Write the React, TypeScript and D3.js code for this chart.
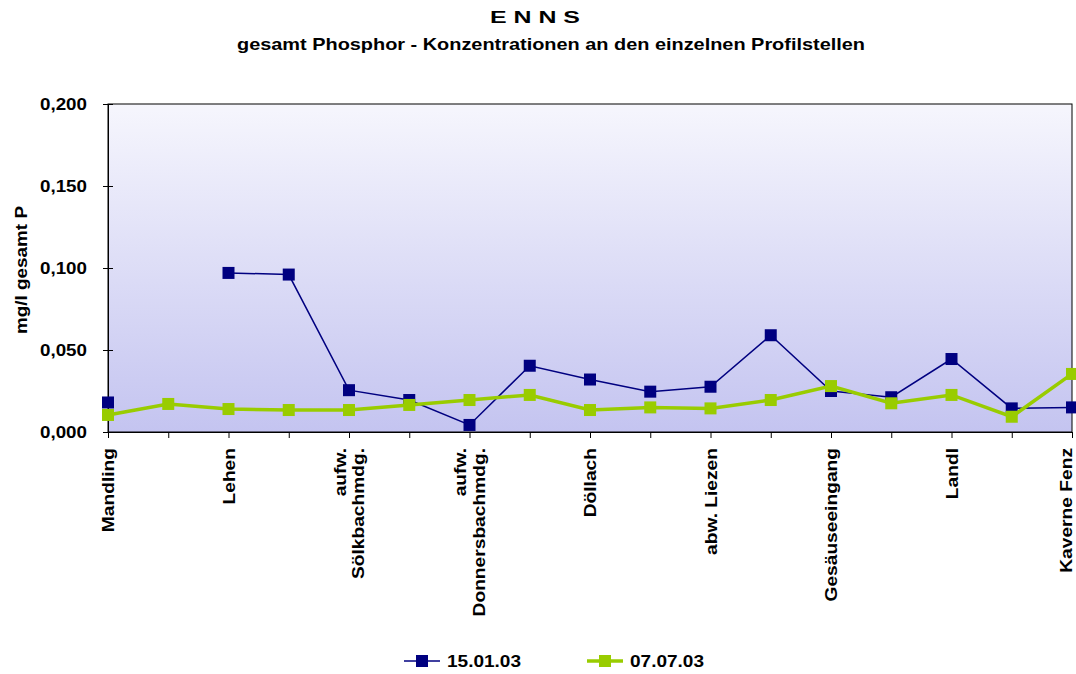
import React, { useRef, useEffect } from "react";
import * as d3 from "d3";

// Profilstellen entlang der Enns (nur jede zweite beschriftet)
const stations: string[][] = [
  ["Mandling"],
  [],
  ["Lehen"],
  [],
  ["aufw.", "Sölkbachmdg."],
  [],
  ["aufw.", "Donnersbachmdg."],
  [],
  ["Döllach"],
  [],
  ["abw. Liezen"],
  [],
  ["Gesäuseeingang"],
  [],
  ["Landl"],
  [],
  ["Kaverne Fenz"],
];

const jan03: (number | null)[] = [
  0.018, null, 0.097, 0.096, 0.0255, 0.0195, 0.0043, 0.0404, 0.032, 0.0246,
  0.0276, 0.059, 0.025, 0.0212, 0.0445, 0.0144, 0.015,
];
const jul03: (number | null)[] = [
  0.0104, 0.0171, 0.014, 0.0134, 0.0134, 0.0165, 0.0195, 0.0226, 0.0134,
  0.015, 0.0144, 0.0195, 0.028, 0.0175, 0.0226, 0.0093, 0.0354,
];
const yTicks = [0, 0.05, 0.1, 0.15, 0.2];

const series = [
  { name: "15.01.03", values: jan03, color: "#000080", width: 1.5 },
  { name: "07.07.03", values: jul03, color: "#99cc00", width: 3.5 },
];

const App = () => {
  const svgRef = useRef<SVGSVGElement>(null);

  useEffect(() => {
    document.body.style.margin = "0";
    const width = 1076;
    const height = 674;
    const m = { left: 108, right: 4, top: 104, bottom: 242 };
    const font = "'Liberation Sans', Arial, sans-serif";

    const svg = d3.select(svgRef.current).attr("width", width).attr("height", height);
    svg.selectAll("*").remove();

    const x = d3
      .scalePoint<number>()
      .domain(d3.range(stations.length))
      .range([m.left, width - m.right]);
    const y = d3.scaleLinear().domain([0, 0.2]).range([height - m.bottom, m.top]);

    const defs = svg.append("defs");
    const grad = defs
      .append("linearGradient")
      .attr("id", "bg")
      .attr("x1", 0)
      .attr("y1", 0)
      .attr("x2", 0)
      .attr("y2", 1);
    grad.append("stop").attr("offset", "0%").attr("stop-color", "#f6f6fd");
    grad.append("stop").attr("offset", "100%").attr("stop-color", "#c4c4f0");

    svg
      .append("rect")
      .attr("x", m.left)
      .attr("y", m.top)
      .attr("width", width - m.left - m.right)
      .attr("height", height - m.top - m.bottom)
      .attr("fill", "url(#bg)")
      .attr("stroke", "#000")
      .attr("stroke-width", 1);

    // titles (reference text is drawn wide, so stretch with textLength)
    svg
      .append("text")
      .attr("x", 535)
      .attr("y", 23)
      .attr("text-anchor", "middle")
      .attr("textLength", 90)
      .attr("lengthAdjust", "spacingAndGlyphs")
      .style("font", `bold 17px ${font}`)
      .text("E N N S");
    svg
      .append("text")
      .attr("x", 551)
      .attr("y", 50)
      .attr("text-anchor", "middle")
      .attr("textLength", 628)
      .attr("lengthAdjust", "spacingAndGlyphs")
      .style("font", `bold 17px ${font}`)
      .text("gesamt Phosphor - Konzentrationen an den einzelnen Profilstellen");

    // y axis
    const yAxis = svg
      .append("g")
      .attr("transform", `translate(${m.left},0)`)
      .call(
        d3
          .axisLeft(y)
          .tickValues(yTicks)
          .tickSize(5)
          .tickPadding(16)
          .tickFormat((d) => d3.format(".3f")(d as number).replace(".", ","))
      );
    yAxis.select(".domain").attr("stroke", "#000");
    yAxis.selectAll(".tick line").attr("x2", -5).attr("x1", 5).attr("stroke", "#000");
    yAxis
      .selectAll(".tick text")
      .attr("fill", "#000")
      .attr("textLength", 47)
      .attr("lengthAdjust", "spacingAndGlyphs")
      .style("font", `bold 17px ${font}`);

    svg
      .append("text")
      .attr("transform", `translate(27,${270}) rotate(-90)`)
      .attr("text-anchor", "middle")
      .attr("textLength", 128)
      .attr("lengthAdjust", "spacingAndGlyphs")
      .style("font", `bold 17px ${font}`)
      .text("mg/l gesamt P");

    // x axis
    const xAxis = svg
      .append("g")
      .attr("transform", `translate(0,${height - m.bottom})`)
      .call(d3.axisBottom(x).tickSize(6).tickFormat(() => ""));
    xAxis.select(".domain").attr("stroke", "#000");
    xAxis.selectAll(".tick line").attr("stroke", "#000");

    stations.forEach((lines, i) => {
      if (!lines.length) return;
      const cx = Math.min(x(i) as number, width - 10);
      const g = svg
        .append("g")
        .attr("transform", `translate(${cx},${height - m.bottom + 16}) rotate(-90) scale(1.2,1)`);
      const lh = 19;
      lines.forEach((line, j) => {
        g.append("text")
          .attr("x", 0)
          .attr("y", (j - (lines.length - 1) / 2) * lh + 6)
          .attr("text-anchor", "end")
          .style("font", `bold 16px ${font}`)
          .text(line);
      });
    });

    // lines
    series.forEach((s) => {
      const line = d3
        .line<number | null>()
        .defined((d) => d !== null)
        .x((_, i) => x(i) as number)
        .y((d) => y(d as number));
      svg
        .append("path")
        .datum(s.values)
        .attr("fill", "none")
        .attr("stroke", s.color)
        .attr("stroke-width", s.width)
        .attr("d", line);
      svg
        .append("g")
        .selectAll("rect")
        .data(s.values.map((v, i) => ({ v, i })).filter((d) => d.v !== null))
        .join("rect")
        .attr("x", (d) => (x(d.i) as number) - 6)
        .attr("y", (d) => y(d.v as number) - 6)
        .attr("width", 12)
        .attr("height", 12)
        .attr("fill", s.color);
    });

    // legend
    const legendX = [404, 587];
    series.forEach((s, i) => {
      const lg = svg.append("g").attr("transform", `translate(${legendX[i]},661)`);
      lg.append("line")
        .attr("x1", 0)
        .attr("x2", 36)
        .attr("stroke", s.color)
        .attr("stroke-width", s.width);
      lg.append("rect")
        .attr("x", 12)
        .attr("y", -6)
        .attr("width", 12)
        .attr("height", 12)
        .attr("fill", s.color);
      lg.append("text")
        .attr("x", 43)
        .attr("y", 6)
        .attr("textLength", 74)
        .attr("lengthAdjust", "spacingAndGlyphs")
        .style("font", `bold 17px ${font}`)
        .text(s.name);
    });
  }, []);

  return <svg ref={svgRef}></svg>;
};

export default App;
